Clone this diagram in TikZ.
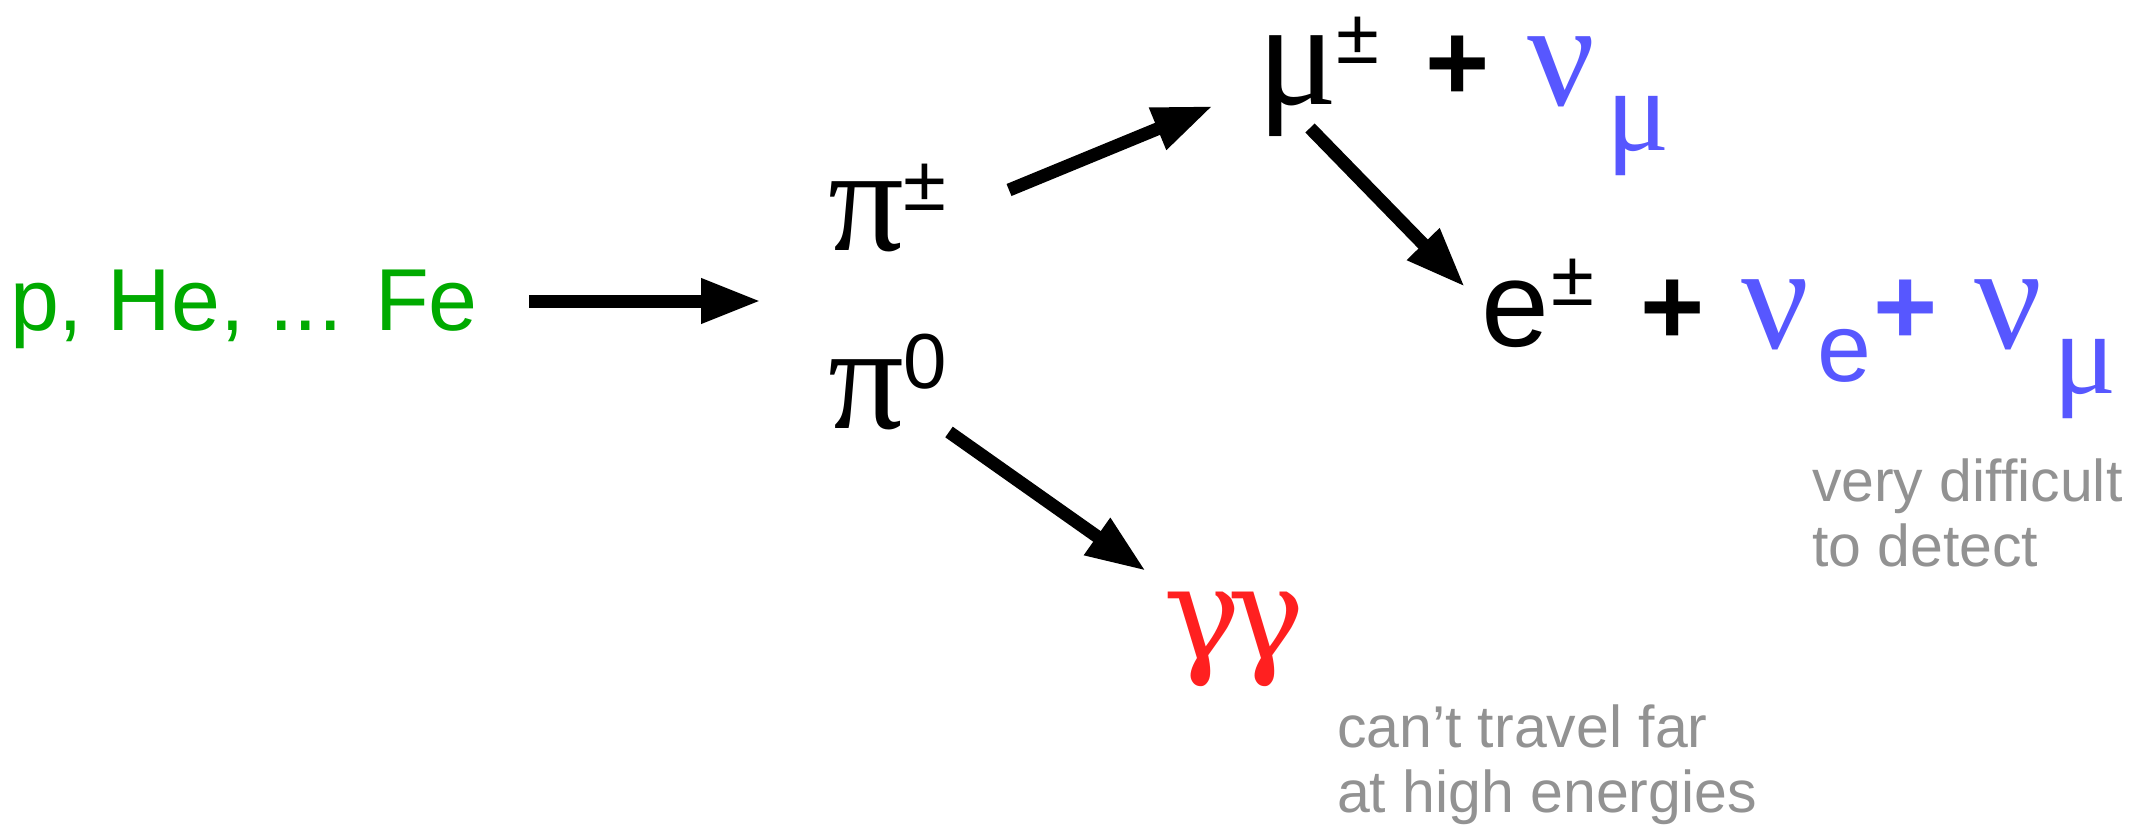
\documentclass[tikz,border=0pt]{standalone}
\usepackage{fontspec}
\setmainfont{Liberation Sans}
\newfontfamily\gk{Liberation Serif}
\newfontfamily\gkb{DejaVu Serif}
\usetikzlibrary{arrows.meta}
\definecolor{cgreen}{RGB}{0,170,0}
\definecolor{cblue}{RGB}{87,87,255}
\definecolor{cred}{RGB}{255,32,32}
\definecolor{cgray}{RGB}{146,146,146}
\tikzset{
  lbl/.style={inner sep=0pt, outer sep=0pt, anchor=base},
  greek/.style={lbl, text height=72pt, text depth=30pt, font=\gk\fontsize{150}{180}\selectfont},
  greeksub/.style={lbl, text height=58pt, text depth=24pt, font=\gk\fontsize{118}{140}\selectfont},
  supsym/.style={lbl, text height=55pt, text depth=0pt, font=\fontsize{78}{90}\selectfont},
  plussym/.style={lbl, font=\bfseries\fontsize{110}{130}\selectfont},
  note/.style={inner sep=0pt, outer sep=0pt, anchor=north west, align=left, text=cgray, font=\fontsize{59}{65}\selectfont},
  decay/.style={line width=13pt, -{Triangle[length=60pt,width=42pt]}},
}
\begin{document}
\begin{tikzpicture}[x=1pt,y=-1pt]
\useasboundingbox (0,0) rectangle (2135,826);
% source
\node[lbl, anchor=base west, text=cgreen, font=\fontsize{88}{100}\selectfont] (src) at (10,330) {p, He, ... Fe};
% pions
\node[greek] (pip) at (866,251) {π};
\node[supsym] (pipsup) at (925,211) {±};
\node[greek] (pio) at (866,428) {π};
\node[supsym] (piosup) at (925,388) {0};
% muon line
\node[greek] (mu) at (1298,105) {μ};
\node[supsym] (musup) at (1358,64) {±};
\node[plussym] (plA) at (1458,101) {+};
\node[greek, text=cblue] (numu) at (1561,106) {ν};
\node[greeksub, text=cblue] (numusub) at (1638,151) {μ};
% electron line
\node[lbl, font=\fontsize{122}{140}\selectfont] (el) at (1515,346) {e};
\node[supsym] (elsup) at (1573,305) {±};
\node[plussym] (plB) at (1673,344) {+};
\node[greek, text=cblue] (nue) at (1775,348) {ν};
\node[lbl, text=cblue, font=\fontsize{97}{110}\selectfont] (nuesub) at (1844,381) {e};
\node[plussym, text=cblue] (plC) at (1906,344) {+};
\node[greek, text=cblue] (numuB) at (2008,348) {ν};
\node[greeksub, text=cblue] (numuBsub) at (2085,393) {μ};
% photons
\node[lbl, text=cred, font=\gkb\fontsize{130}{150}\selectfont] (gg) at (1234,659) {γ\kern-14ptγ};
% notes
\node[note] (noteA) at (1812,459) {very difficult\\to detect};
\node[note] (noteB) at (1337,705) {can’t travel far\\at high energies};
% arrow end points
\coordinate (a1s) at (529,301);
\coordinate (a1e) at (761,301);
\coordinate (a2s) at (1009,190);
\coordinate (a2e) at (1213,106);
\coordinate (a3s) at (1310,128);
\coordinate (a3e) at (1465,287);
\coordinate (a4s) at (949,432);
\coordinate (a4e) at (1146,571);
\draw[decay] (a1s) -- (a1e);
\draw[decay] (a2s) -- (a2e);
\draw[decay] (a3s) -- (a3e);
\draw[decay] (a4s) -- (a4e);
\end{tikzpicture}
\end{document}
